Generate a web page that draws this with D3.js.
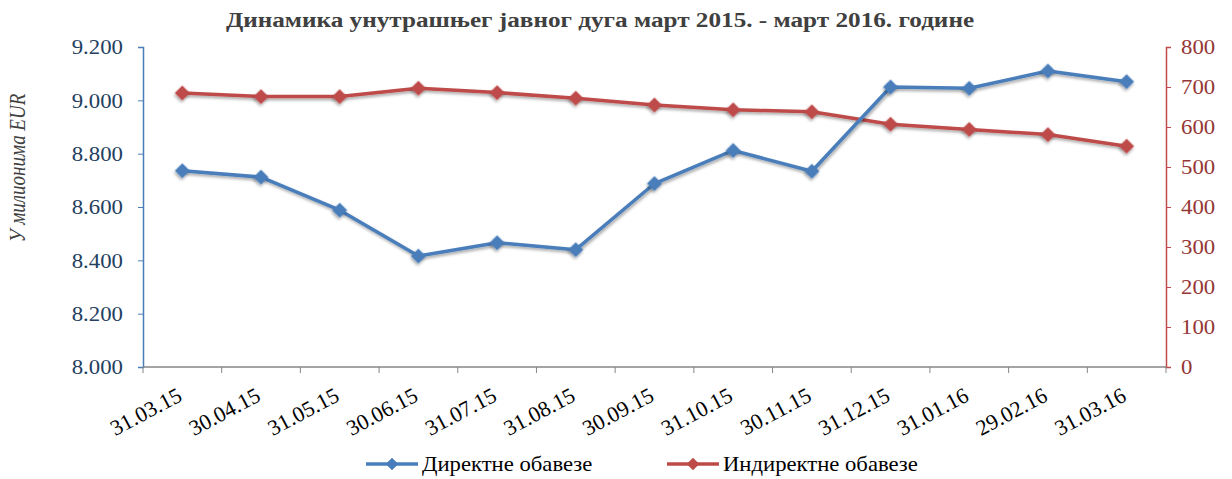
<!DOCTYPE html>
<html>
<head>
<meta charset="utf-8">
<script src="https://cdn.jsdelivr.net/npm/d3@7"></script>
<style>
  body { margin: 0; background: #fff; }
  svg text { font-family: "Liberation Serif", "Times New Roman", serif; }
</style>
</head>
<body>
<div id="chart-wrap"></div>
<script>
const dates = ["31.03.15", "30.04.15", "31.05.15", "30.06.15", "31.07.15", "31.08.15", "30.09.15",
  "31.10.15", "30.11.15", "31.12.15", "31.01.16", "29.02.16", "31.03.16"];
const direct = [8736, 8712, 8588, 8416, 8466, 8440, 8688, 8812, 8734, 9050, 9045, 9110, 9070];
const indirect = [685, 676, 676, 697, 686, 672, 655, 643, 638, 607, 594, 581, 552];
const leftTicks = [8000, 8200, 8400, 8600, 8800, 9000, 9200];
const rightTicks = [0, 100, 200, 300, 400, 500, 600, 700, 800];

const width = 1232;
const height = 479;
const margin = {top: 47, bottom: 110, left: 143, right: 66};

const blue = "#4a7ebb";
const red = "#be4b48";

const svg = d3.select("#chart-wrap")
  .append("svg")
  .attr("width", width)
  .attr("height", height);

// soft drop shadow like the original markers
const defs = svg.append("defs");
const f = defs.append("filter").attr("id", "shadow")
  .attr("x", "-50%").attr("y", "-50%").attr("width", "200%").attr("height", "200%");
f.append("feDropShadow").attr("dx", 1).attr("dy", 2).attr("stdDeviation", 1.5)
  .attr("flood-color", "#000").attr("flood-opacity", 0.35);

const x = d3.scaleBand()
  .domain(dates)
  .range([margin.left, width - margin.right]);

const yL = d3.scaleLinear()
  .domain([8000, 9200])
  .range([height - margin.bottom - 2, margin.top]);

const yR = d3.scaleLinear()
  .domain([0, 800])
  .range([height - margin.bottom - 2, margin.top]);

const fmt = d => d3.format(",")(d).replace(",", ".");

// title
svg.append("text")
  .attr("transform", "translate(600,27) scale(1.2,1)")
  .attr("text-anchor", "middle")
  .attr("font-size", 21)
  .attr("font-weight", "bold")
  .attr("fill", "#404040")
  .text("Динамика унутрашњег јавног дуга март 2015. - март 2016. године");

// y label
svg.append("text")
  .attr("transform", "translate(25,168) rotate(-90) scale(1,1.2)")
  .attr("text-anchor", "middle")
  .attr("font-size", 19)
  .attr("font-style", "italic")
  .attr("fill", "#404040")
  .text("У милионима EUR");

// left axis
const gL = svg.append("g")
  .attr("transform", "translate(" + margin.left + ",0)")
  .call(d3.axisLeft(yL).tickValues(leftTicks).tickFormat(fmt).tickSizeOuter(0).tickSize(5));
gL.select(".domain").attr("stroke", blue).attr("stroke-width", 1.5);
gL.selectAll(".tick line").attr("stroke", blue);
gL.selectAll("text").attr("fill", "#243f60").attr("font-size", 20)
  .attr("x", 0).attr("dy", "0.34em")
  .attr("transform", "translate(-20,0) scale(1.14,1)");

// right axis
const gR = svg.append("g")
  .attr("transform", "translate(" + (width - margin.right) + ",0)")
  .call(d3.axisRight(yR).tickValues(rightTicks).tickSizeOuter(0).tickSize(5));
gR.select(".domain").attr("stroke", red).attr("stroke-width", 1.5);
gR.selectAll(".tick line").attr("stroke", red);
gR.selectAll("text").attr("fill", "#953735").attr("font-size", 20)
  .attr("x", 0).attr("dy", "0.34em")
  .attr("transform", "translate(15,0) scale(1.14,1)");

// x axis with ticks at band boundaries
const yBase = yL(8000);
const gX = svg.append("g").attr("transform", "translate(0," + yBase + ")");
gX.append("line")
  .attr("x1", margin.left).attr("x2", width - margin.right)
  .attr("stroke", "#868686").attr("stroke-width", 1.5);
gX.selectAll(".tk")
  .data(dates.concat(["end"]))
  .enter().append("line")
  .attr("x1", (d, i) => margin.left + i * x.bandwidth())
  .attr("x2", (d, i) => margin.left + i * x.bandwidth())
  .attr("y1", 0).attr("y2", 6)
  .attr("stroke", "#868686");
gX.selectAll(".lbl")
  .data(dates)
  .enter().append("text")
  .attr("transform", d => "translate(" + (x(d) + x.bandwidth() / 2 + 1) + ",33) rotate(-28)")
  .attr("text-anchor", "end")
  .attr("font-size", 22)
  .attr("fill", "#000")
  .text(d => d);

// square turned 45deg, ~15px across like the original markers
const diamond = d3.symbol().type(d3.symbolSquare).size(112);

function drawSeries(values, scale, color) {
  const line = d3.line()
    .x((d, i) => x(dates[i]) + x.bandwidth() / 2)
    .y(d => scale(d));
  svg.append("path")
    .datum(values)
    .attr("fill", "none")
    .attr("stroke", color)
    .attr("stroke-width", 3.5)
    .attr("stroke-linejoin", "round")
    .attr("filter", "url(#shadow)")
    .attr("d", line);
  svg.append("g").selectAll("path")
    .data(values)
    .enter().append("path")
    .attr("d", diamond)
    .attr("transform", (d, i) => "translate(" + (x(dates[i]) + x.bandwidth() / 2) + "," + scale(d) + ") rotate(45)")
    .attr("fill", color)
    .attr("filter", "url(#shadow)");
}

drawSeries(indirect, yR, red);
drawSeries(direct, yL, blue);

// legend
const legend = [
  {name: "Директне обавезе", color: blue, x: 366},
  {name: "Индиректне обавезе", color: red, x: 667}
];
const lg = svg.append("g").selectAll("g")
  .data(legend)
  .enter().append("g")
  .attr("transform", d => "translate(" + d.x + ",464)");
lg.append("line")
  .attr("x1", 0).attr("x2", 52)
  .attr("stroke", d => d.color).attr("stroke-width", 3.5);
lg.append("path")
  .attr("d", d3.symbol().type(d3.symbolSquare).size(80))
  .attr("transform", "translate(26,0) rotate(45)")
  .attr("fill", d => d.color);
lg.append("text")
  .attr("transform", "translate(56,0) scale(1.08,1)")
  .attr("dy", "0.35em")
  .attr("font-size", 21)
  .attr("fill", "#000")
  .text(d => d.name);
</script>
</body>
</html>
